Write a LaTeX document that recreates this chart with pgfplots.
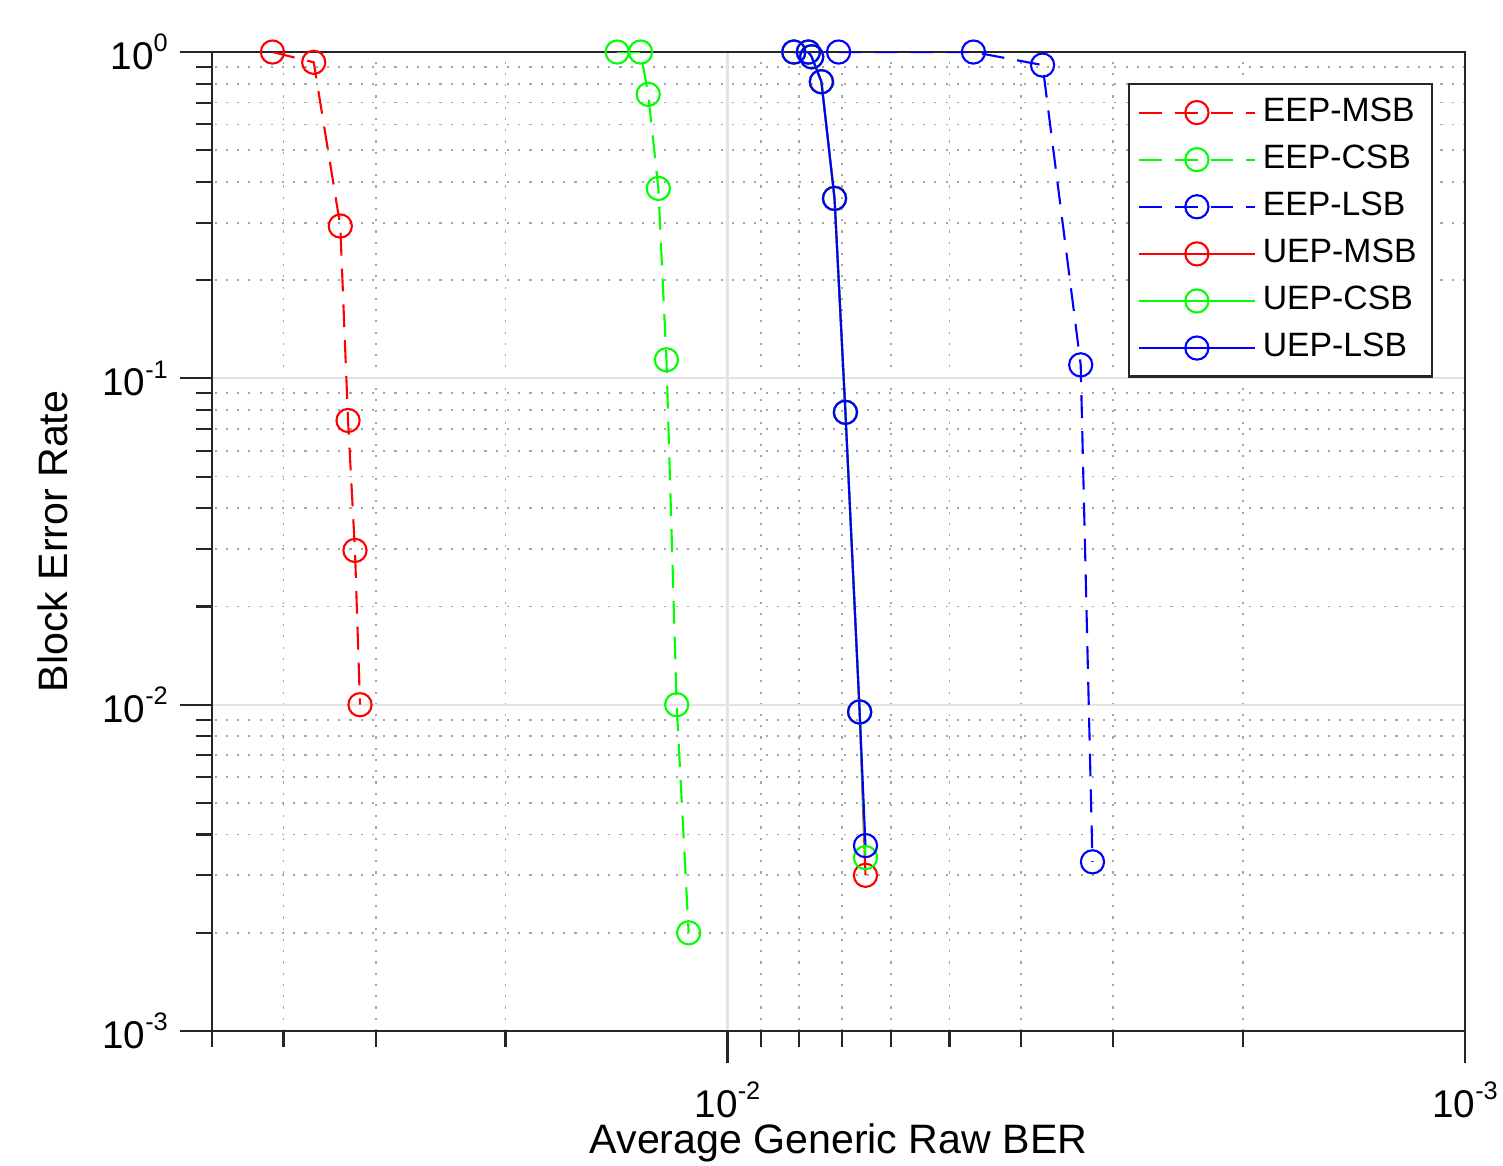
\documentclass[border=0pt]{standalone}
\usepackage{fontspec}
\setmainfont{Liberation Sans}
\usepackage{pgfplots}
\pgfplotsset{compat=1.18}
\usetikzlibrary{calc}

% MATLAB-like power-of-ten label
\newcommand{\tenp}[1]{10\raisebox{0.45em}{\fontsize{7.2}{8}\selectfont#1}}

\begin{document}
\begin{tikzpicture}
\begin{axis}[
    name=ax,
    scale only axis,
    width=12.53cm, height=9.79cm,
    xmode=log, ymode=log,
    x dir=reverse,
    xmin=1e-3, xmax=0.05,
    ymin=1e-3, ymax=1,
    xtick={1e-3,1e-2},
    xticklabels={\tenp{-3},\tenp{-2}},
    ytick={1e-3,1e-2,1e-1,1},
    yticklabels={\tenp{-3},\tenp{-2},\tenp{-1},\tenp{0}},
    minor xtick={0.002,0.003,0.004,0.005,0.006,0.007,0.008,0.009,0.02,0.03,0.04,0.05},
    minor ytick={0.002,0.003,0.004,0.005,0.006,0.007,0.008,0.009,
                 0.02,0.03,0.04,0.05,0.06,0.07,0.08,0.09,
                 0.2,0.3,0.4,0.5,0.6,0.7,0.8,0.9},
    xtick pos=left, ytick pos=left,
    tick align=outside,
    major tick length=0.32cm, minor tick length=0.16cm,
    tick style={black!85, line width=0.6pt},
    grid=both,
    major grid style={gray!22, line width=0.6pt},
    minor grid style={gray!70, line width=0.5pt, dash pattern=on 0.6pt off 2.6pt},
    axis line style={black!85, line width=0.6pt},
    tick label style={font=\fontsize{11}{13}\selectfont},
    xticklabel style={yshift=-0.07cm},
    label style={font=\fontsize{11.7}{14}\selectfont},
    xlabel={Average Generic Raw BER},
    ylabel={Block Error Rate},
    xlabel style={at={(axis description cs:0.5,-0.1256)}, anchor=base},
    ylabel style={at={(axis description cs:-0.1157,0.5)}, anchor=base},
    legend style={
        at={(0.9745,0.9683)}, anchor=north east,
        draw=black!85, line width=0.6pt, fill=white,
        font=\fontsize{9.6}{11}\selectfont,
        inner xsep=2.45pt, inner ysep=1.4pt,
        row sep=0pt,
        nodes={inner xsep=1.95pt, inner ysep=2.2pt, text height=7pt, text depth=2pt},
    },
    legend cell align=left,
    legend image code/.code={\draw[mark repeat=2,mark phase=2] plot coordinates {(0cm,0cm) (0.58cm,0cm) (1.16cm,0cm)};},
    every axis plot/.append style={line width=0.6pt, mark=o, mark size=3.3pt, mark options={solid}},
]

% EEP curves (dashed)
\addplot[red, dash pattern=on 6.5pt off 3.7pt] coordinates {
    (0.0414,1) (0.0364,0.93) (0.0335,0.293) (0.0327,0.0743) (0.0320,0.0297) (0.0315,0.0100)
};
\addlegendentry{EEP-MSB}
\addplot[green, dash pattern=on 6.5pt off 3.7pt] coordinates {
    (0.01411,1) (0.01312,1) (0.01281,0.742) (0.01241,0.382) (0.01210,0.114) (0.01172,0.0100) (0.01129,0.0020)
};
\addlegendentry{EEP-CSB}
\addplot[blue, dash pattern=on 6.5pt off 3.7pt] coordinates {
    (0.00707,1) (0.00464,1) (0.00374,0.912) (0.00332,0.110) (0.00320,0.0033)
};
\addlegendentry{EEP-LSB}

% UEP curves (solid), mostly on top of each other
\addplot[red] coordinates {
    (0.00813,1) (0.00777,1) (0.00769,0.967) (0.00746,0.811) (0.00716,0.356) (0.00692,0.0787) (0.00662,0.0095) (0.00650,0.0030)
};
\addlegendentry{UEP-MSB}
\addplot[green] coordinates {
    (0.00813,1) (0.00777,1) (0.00769,0.967) (0.00746,0.811) (0.00716,0.356) (0.00692,0.0787) (0.00662,0.0095) (0.00650,0.0034)
};
\addlegendentry{UEP-CSB}
\addplot[blue] coordinates {
    (0.00813,1) (0.00777,1) (0.00769,0.967) (0.00746,0.811) (0.00716,0.356) (0.00692,0.0787) (0.00662,0.0095) (0.00650,0.0037)
};
\addlegendentry{UEP-LSB}

\end{axis}
\pgfresetboundingbox
\path[use as bounding box] ($(ax.south west)+(-2.12cm,-1.34cm)$) rectangle ($(ax.south west)+(12.91cm,10.31cm)$);
\end{tikzpicture}
\end{document}
